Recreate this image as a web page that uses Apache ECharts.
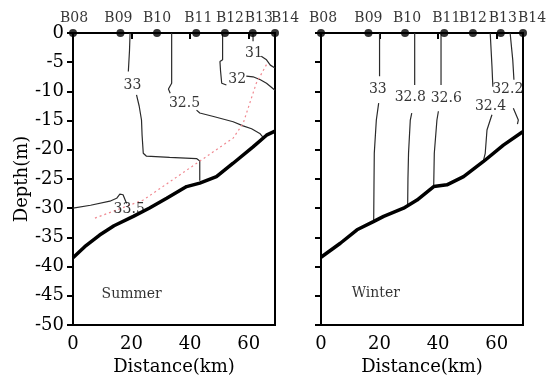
<!DOCTYPE html>
<html>
<head>
<meta charset="utf-8">
<script src="https://cdn.jsdelivr.net/npm/echarts@6/dist/echarts.min.js"></script>
<style>
  html, body { margin: 0; padding: 0; background: #fff; }
  #chart-container { width: 548px; height: 376px; }
</style>
</head>
<body>
<div id="chart-container"></div>
<script>
  // stations along the section
  var stationNames = ['B08', 'B09', 'B10', 'B11', 'B12', 'B13', 'B14'];
  var stationKm = [0, 16.2, 28.7, 42.1, 51.9, 61.4, 69];
  var xTicks = [0, 20, 40, 60];

  // sea floor (m)
  var summerSeabed = [[0, -38.5], [4, -36.6], [9.1, -34.6], [14, -33], [20.6, -31.4], [26, -30], [32, -28.3],
    [38.8, -26.3], [43.3, -25.7], [49, -24.6], [54.7, -22.3], [61.5, -19.5], [66.1, -17.5], [69, -16.8]];
  var winterSeabed = [[0, -38.4], [6.6, -36], [12.3, -33.7], [17.9, -32.3], [21.4, -31.4], [28.2, -30],
    [32.8, -28.6], [38.5, -26.3], [43, -26], [48.7, -24.6], [55.5, -22], [62.3, -19.2], [68.9, -16.9]];

  // summer isohalines (segments broken around labels)
  var s33Top = [[19.5, 0], [19.3, -3], [18.9, -6.6]];
  var s33Low = [[21.7, -10.6], [22.6, -12.5], [23.4, -14.9], [23.6, -17.5], [24, -20.6], [25.1, -21.1],
    [33, -21.3], [42.2, -21.5], [43.3, -21.9], [43.3, -25.3]];
  var s325Top = [[33.7, 0], [33.7, -4], [33.7, -8.6], [32.6, -9.6], [33.2, -10.3]];
  var s325Low = [[42.2, -13.2], [43.3, -13.7], [48, -14.3], [54.7, -15.2], [58.1, -15.9], [61, -16.4],
    [63.8, -17.2], [64.8, -17.8]];
  var s32Top = [[51.1, 0], [51.1, -4.6], [50.2, -4.9], [50.4, -6.5], [50.8, -8.6], [52.4, -8.9]];
  var s32Low = [[59.2, -7.4], [61.5, -7.5], [64, -8], [66.1, -8.6], [69, -9.8]];
  var s31Top = [[61.5, 0], [61.5, -1.4]];
  var s31Low = [[64.3, -4], [66.1, -4.6], [67.4, -5.5], [69, -6]];
  var s335 = [[0, -30], [6, -29.5], [12.6, -28.8], [14.9, -28.3], [16, -27.6], [17.1, -27.7], [18.3, -29.2]];
  var summerFront = [[7.5, -31.7], [24, -28.6], [38.8, -23.5], [54.7, -18], [58.1, -15.5], [62.6, -8.6], [66.1, -5.4]];
  var summerLabels = [['33', 20.3, -8.9], ['32.5', 38.1, -12], ['32', 56.1, -7.9], ['31', 61.8, -3.5], ['33.5', 19.2, -30.2]];

  // winter isohalines
  var w33Top = [[20, 0], [20, -7.4]];
  var w33Low = [[19.7, -12], [18.9, -14.9], [18.2, -20.6], [18.1, -26], [18, -32.1]];
  var w328Top = [[32, 0], [32, -8.9]];
  var w328Low = [[31, -13.7], [30.5, -14.9], [29.9, -20.6], [29.7, -25], [29.6, -29.6]];
  var w326Top = [[41, 0], [41, -8.9]];
  var w326Low = [[40.1, -13.4], [39.6, -14.9], [38.7, -20.6], [38.5, -26.1]];
  var w324Top = [[57.8, 0], [58.4, -5.7], [58.7, -9.2]];
  var w324Low = [[58.4, -14], [57.8, -14.9], [56.7, -16.6], [56.1, -20.6], [55.5, -21.8]];
  var w322Top = [[64.6, 0], [65.5, -4.6], [65.9, -8]];
  var w322Low = [[65.7, -12.9], [67.4, -14.9], [67.1, -15.6]];
  var winterLabels = [['33', 19.4, -9.6], ['32.8', 30.5, -11], ['32.6', 42.8, -11.2], ['32.4', 57.9, -12.5], ['32.2', 63.8, -9.6]];

  var seasonNames = ['Summer', 'Winter'];
  var seasonLabelPos = [[9.6, -44.7], [10.3, -44.5]];

  var FONT = 'DejaVu Serif';
  // horizontal nudge (px) of station names so crowded ones do not collide
  var stationLabelDx = [[1, -2, 0, 2, 5, 6, 10], [2, 0, 2, 2, 0, 2, 9]];

  var dom = document.getElementById('chart-container');
  var myChart = echarts.init(dom, null, { renderer: 'canvas' });

  function contour(data, g) {
    return {
      type: 'line', xAxisIndex: g, yAxisIndex: g, data: data, symbol: 'none',
      lineStyle: { color: '#2a2a2a', width: 1.2 }, silent: true, z: 2
    };
  }
  function seabed(data, g) {
    return {
      type: 'line', xAxisIndex: g, yAxisIndex: g, data: data, symbol: 'none',
      lineStyle: { color: '#000', width: 3.5 }, silent: true, z: 4
    };
  }
  function textSeries(items, g, size, pos) {
    return {
      type: 'scatter', xAxisIndex: g, yAxisIndex: g, symbolSize: 1, clip: false,
      itemStyle: { color: 'transparent' }, silent: true, z: 5,
      data: items.map(function (t) { return { name: t[0], value: [t[1], t[2]] }; }),
      label: { show: true, position: pos || 'inside', distance: 0, formatter: '{b}', color: '#000', fontFamily: FONT, fontSize: size }
    };
  }
  function stations(g) {
    return {
      type: 'scatter', xAxisIndex: g, yAxisIndex: g, symbolSize: 8, clip: false, z: 6,
      itemStyle: { color: '#000' },
      data: stationKm.map(function (x, i) {
        return { name: stationNames[i], value: [x, 0], label: { offset: [stationLabelDx[g][i], 0] } };
      }),
      label: { show: true, position: 'top', distance: 4, formatter: '{b}', color: '#000', fontFamily: FONT, fontSize: 14 }
    };
  }

  function xAxisFor(g) {
    return {
      gridIndex: g, type: 'value', min: 0, max: 69,
      name: 'Distance(km)', nameLocation: 'middle', nameGap: 30,
      nameTextStyle: { color: '#000', fontFamily: FONT, fontSize: 18 },
      axisLine: { lineStyle: { color: '#000', width: 2 } },
      axisTick: { length: 6, customValues: xTicks, lineStyle: { color: '#000', width: 2 } },
      axisLabel: { customValues: xTicks, margin: 10, color: '#000', fontFamily: FONT, fontSize: 18 },
      splitLine: { show: false }
    };
  }
  function yAxisFor(g) {
    return {
      gridIndex: g, type: 'value', min: -50, max: 0, interval: 5,
      name: g === 0 ? 'Depth(m)' : '', nameLocation: 'middle', nameGap: 42, nameRotate: 90,
      nameTextStyle: { color: '#000', fontFamily: FONT, fontSize: 18 },
      axisLine: { lineStyle: { color: '#000', width: 2 } },
      axisTick: { length: 6, lineStyle: { color: '#000', width: 2 } },
      axisLabel: { show: g === 0, margin: 9, color: '#000', fontFamily: FONT, fontSize: 18 },
      splitLine: { show: false }
    };
  }

  var series = [
    contour(s33Top, 0), contour(s33Low, 0), contour(s325Top, 0), contour(s325Low, 0),
    contour(s32Top, 0), contour(s32Low, 0), contour(s31Top, 0), contour(s31Low, 0), contour(s335, 0),
    {
      type: 'line', xAxisIndex: 0, yAxisIndex: 0, data: summerFront, symbol: 'none', silent: true, z: 3,
      lineStyle: { color: '#f08890', width: 1.2, type: [2, 3] }
    },
    seabed(summerSeabed, 0),
    textSeries(summerLabels, 0, 14),
    contour(w33Top, 1), contour(w33Low, 1), contour(w328Top, 1), contour(w328Low, 1),
    contour(w326Top, 1), contour(w326Low, 1), contour(w324Top, 1), contour(w324Low, 1),
    contour(w322Top, 1), contour(w322Low, 1),
    seabed(winterSeabed, 1),
    textSeries(winterLabels, 1, 14),
    stations(0), stations(1),
    textSeries([[seasonNames[0], seasonLabelPos[0][0], seasonLabelPos[0][1]]], 0, 14, 'right'),
    textSeries([[seasonNames[1], seasonLabelPos[1][0], seasonLabelPos[1][1]]], 1, 14, 'right')
  ];

  var options = {
    animation: false,
    backgroundColor: '#fff',
    grid: [
      { left: 73, top: 33, width: 202, height: 292, show: true, borderColor: '#000', borderWidth: 2, outerBoundsMode: 'none' },
      { left: 321, top: 33, width: 202, height: 292, show: true, borderColor: '#000', borderWidth: 2, outerBoundsMode: 'none' }
    ],
    xAxis: [xAxisFor(0), xAxisFor(1)],
    yAxis: [yAxisFor(0), yAxisFor(1)],
    series: series
  };

  myChart.setOption(options);
</script>
</body>
</html>
